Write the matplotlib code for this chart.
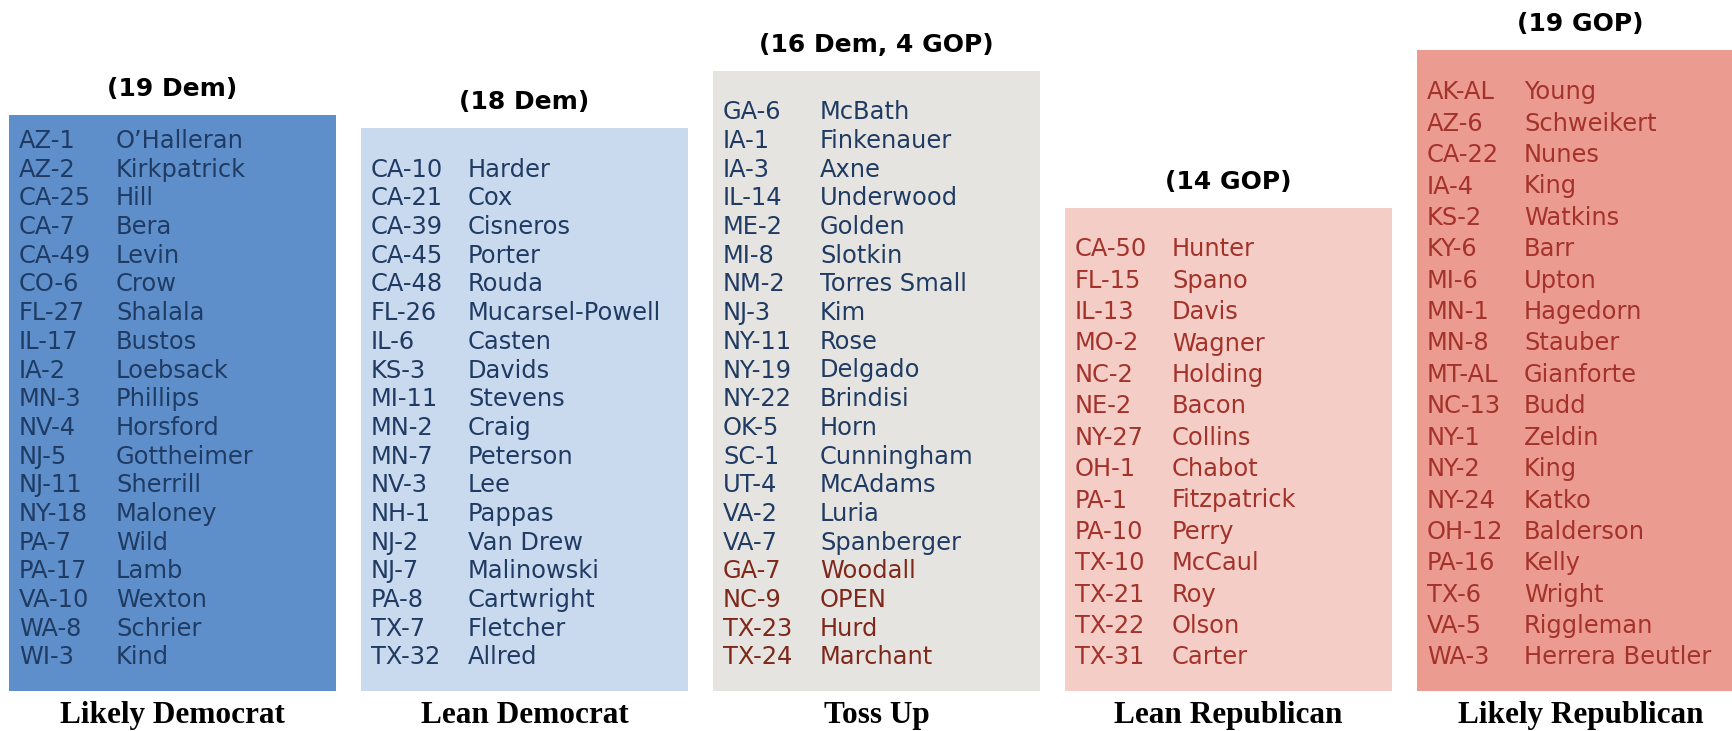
import matplotlib
matplotlib.use("Agg")
import matplotlib.pyplot as plt

# ---- data ----
categories = ["Likely Democrat", "Lean Democrat", "Toss Up", "Lean Republican", "Likely Republican"]
headers = ["(19 Dem)", "(18 Dem)", "(16 Dem, 4 GOP)", "(14 GOP)", "(19 GOP)"]
box_heights = [576, 563, 620, 483, 641]  # box heights (px units)

likely_dem_districts = ["AZ-1", "AZ-2", "CA-25", "CA-7", "CA-49", "CO-6", "FL-27", "IL-17", "IA-2", "MN-3",
                        "NV-4", "NJ-5", "NJ-11", "NY-18", "PA-7", "PA-17", "VA-10", "WA-8", "WI-3"]
likely_dem_names = ["O\u2019Halleran", "Kirkpatrick", "Hill", "Bera", "Levin", "Crow", "Shalala", "Bustos",
                    "Loebsack", "Phillips", "Horsford", "Gottheimer", "Sherrill", "Maloney", "Wild", "Lamb",
                    "Wexton", "Schrier", "Kind"]

lean_dem_districts = ["CA-10", "CA-21", "CA-39", "CA-45", "CA-48", "FL-26", "IL-6", "KS-3", "MI-11", "MN-2",
                      "MN-7", "NV-3", "NH-1", "NJ-2", "NJ-7", "PA-8", "TX-7", "TX-32"]
lean_dem_names = ["Harder", "Cox", "Cisneros", "Porter", "Rouda", "Mucarsel-Powell", "Casten", "Davids",
                  "Stevens", "Craig", "Peterson", "Lee", "Pappas", "Van Drew", "Malinowski", "Cartwright",
                  "Fletcher", "Allred"]

tossup_districts = ["GA-6", "IA-1", "IA-3", "IL-14", "ME-2", "MI-8", "NM-2", "NJ-3", "NY-11", "NY-19",
                    "NY-22", "OK-5", "SC-1", "UT-4", "VA-2", "VA-7", "GA-7", "NC-9", "TX-23", "TX-24"]
tossup_names = ["McBath", "Finkenauer", "Axne", "Underwood", "Golden", "Slotkin", "Torres Small", "Kim",
                "Rose", "Delgado", "Brindisi", "Horn", "Cunningham", "McAdams", "Luria", "Spanberger",
                "Woodall", "OPEN", "Hurd", "Marchant"]
tossup_party = ["D"] * 16 + ["R"] * 4

lean_rep_districts = ["CA-50", "FL-15", "IL-13", "MO-2", "NC-2", "NE-2", "NY-27", "OH-1", "PA-1", "PA-10",
                      "TX-10", "TX-21", "TX-22", "TX-31"]
lean_rep_names = ["Hunter", "Spano", "Davis", "Wagner", "Holding", "Bacon", "Collins", "Chabot",
                  "Fitzpatrick", "Perry", "McCaul", "Roy", "Olson", "Carter"]

likely_rep_districts = ["AK-AL", "AZ-6", "CA-22", "IA-4", "KS-2", "KY-6", "MI-6", "MN-1", "MN-8", "MT-AL",
                        "NC-13", "NY-1", "NY-2", "NY-24", "OH-12", "PA-16", "TX-6", "VA-5", "WA-3"]
likely_rep_names = ["Young", "Schweikert", "Nunes", "King", "Watkins", "Barr", "Upton", "Hagedorn",
                    "Stauber", "Gianforte", "Budd", "Zeldin", "King", "Katko", "Balderson", "Kelly",
                    "Wright", "Riggleman", "Herrera Beutler"]

# ---- styling ----
W, H = 1733, 731
box_colors = ["#5e8fca", "#c9d9ee", "#e6e4e1", "#f4cdc6", "#ec9b90"]
blue_text = "#1f3b63"
red_text = "#a3322a"
toss_red = "#7f2719"

columns = [
    (likely_dem_districts, likely_dem_names, ["D"] * len(likely_dem_districts), 28.7, blue_text),
    (lean_dem_districts, lean_dem_names, ["D"] * len(lean_dem_districts), 28.7, blue_text),
    (tossup_districts, tossup_names, tossup_party, 28.7, None),
    (lean_rep_districts, lean_rep_names, ["R"] * len(lean_rep_districts), 31.4, red_text),
    (likely_rep_districts, likely_rep_names, ["R"] * len(likely_rep_districts), 31.4, red_text),
]

fig = plt.figure(figsize=(W / 100, H / 100), dpi=100)
ax = fig.add_axes([0, 0, 1, 1])
ax.set_xlim(0, W)
ax.set_ylim(H, 0)
ax.axis("off")

box_w = 327
lefts = [9 + 352 * i for i in range(5)]
base = 691
last_row_y = 657.5

ax.bar(lefts, [-h for h in box_heights], width=box_w, bottom=base, align="edge",
       color=box_colors, linewidth=0, zorder=1)

for i, (cat, hdr, h) in enumerate(zip(categories, headers, box_heights)):
    left = lefts[i]
    cx = left + box_w / 2
    top = base - h
    ax.text(cx, top - 26, hdr, ha="center", va="center", fontsize=18,
            fontweight="heavy", family="DejaVu Sans", color="black")
    ax.text(cx, 723, cat, ha="center", va="baseline", fontsize=22.5,
            fontweight="bold", family="Liberation Serif", color="black")
    dists, names, party, sp, col = columns[i]
    n = len(dists)
    for j, (d, nm, p) in enumerate(zip(dists, names, party)):
        y = last_row_y - (n - 1 - j) * sp
        if col is None:
            c = blue_text if p == "D" else toss_red
        else:
            c = col
        ax.text(left + 10, y, d, ha="left", va="center", fontsize=17.4, color=c, family="DejaVu Sans")
        ax.text(left + 107, y, nm, ha="left", va="center", fontsize=17.4, color=c, family="DejaVu Sans")

fig.savefig("out.png", dpi=100)
